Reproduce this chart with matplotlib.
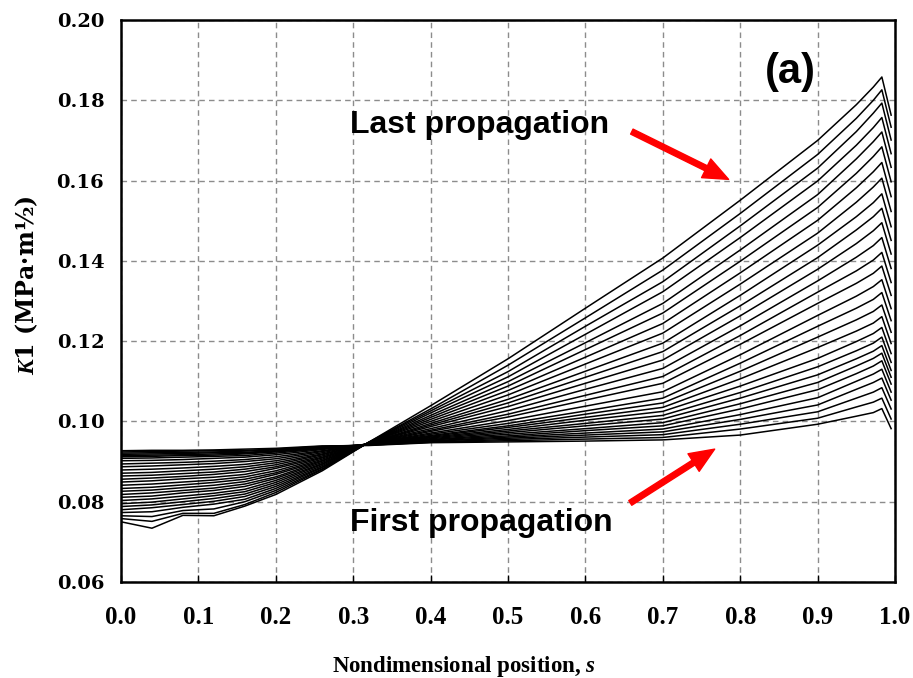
import numpy as np
import matplotlib
matplotlib.use('Agg')
import matplotlib.pyplot as plt

plt.rcParams['font.family'] = 'Liberation Serif'
plt.rcParams['mathtext.fontset'] = 'custom'
plt.rcParams['mathtext.it'] = 'DejaVu Serif:bold:italic'
plt.rcParams['mathtext.rm'] = 'DejaVu Serif:bold'

s_pos = [0.0, 0.04, 0.08, 0.12, 0.16, 0.20, 0.26, 0.32, 0.40, 0.50,
         0.60, 0.70, 0.80, 0.90, 0.95, 0.972, 0.983, 0.995]

# K1 values per position, one entry per propagation step (first -> last)
k_000 = [0.0927, 0.0924, 0.0921, 0.0918, 0.0915, 0.0912, 0.0908, 0.0902, 0.0894, 0.0887, 0.0879, 0.0871, 0.0864, 0.0856,
         0.0849, 0.0841, 0.0833, 0.0826, 0.0818, 0.0811, 0.0803, 0.0795, 0.0788, 0.0780, 0.0773, 0.0765, 0.0758, 0.0750]
k_004 = [0.0928, 0.0925, 0.0922, 0.0919, 0.0916, 0.0913, 0.0909, 0.0903, 0.0896, 0.0889, 0.0881, 0.0873, 0.0866, 0.0859,
         0.0852, 0.0844, 0.0836, 0.0829, 0.0822, 0.0814, 0.0807, 0.0799, 0.0792, 0.0785, 0.0775, 0.0763, 0.0751, 0.0734]
k_008 = [0.0928, 0.0926, 0.0923, 0.0920, 0.0917, 0.0915, 0.0911, 0.0905, 0.0898, 0.0892, 0.0884, 0.0877, 0.0870, 0.0863,
         0.0857, 0.0849, 0.0842, 0.0835, 0.0828, 0.0822, 0.0814, 0.0807, 0.0800, 0.0793, 0.0786, 0.0778, 0.0771, 0.0766]
k_012 = [0.0929, 0.0927, 0.0924, 0.0922, 0.0919, 0.0916, 0.0913, 0.0908, 0.0901, 0.0895, 0.0888, 0.0881, 0.0874, 0.0868,
         0.0861, 0.0854, 0.0848, 0.0841, 0.0834, 0.0828, 0.0821, 0.0815, 0.0808, 0.0801, 0.0794, 0.0782, 0.0771, 0.0765]
k_016 = [0.0931, 0.0928, 0.0926, 0.0923, 0.0921, 0.0919, 0.0915, 0.0911, 0.0905, 0.0900, 0.0893, 0.0887, 0.0881, 0.0875,
         0.0868, 0.0862, 0.0856, 0.0850, 0.0844, 0.0838, 0.0831, 0.0825, 0.0819, 0.0813, 0.0806, 0.0800, 0.0793, 0.0789]
k_020 = [0.0933, 0.0931, 0.0929, 0.0927, 0.0926, 0.0924, 0.0921, 0.0917, 0.0912, 0.0907, 0.0902, 0.0897, 0.0892, 0.0887,
         0.0883, 0.0877, 0.0872, 0.0868, 0.0862, 0.0858, 0.0853, 0.0848, 0.0843, 0.0838, 0.0833, 0.0828, 0.0823, 0.0818]
k_026 = [0.0939, 0.0938, 0.0937, 0.0936, 0.0935, 0.0933, 0.0932, 0.0930, 0.0927, 0.0925, 0.0922, 0.0919, 0.0917, 0.0914,
         0.0911, 0.0909, 0.0906, 0.0903, 0.0901, 0.0898, 0.0895, 0.0893, 0.0890, 0.0887, 0.0885, 0.0882, 0.0880, 0.0877]
k_032 = [0.0940, 0.0941, 0.0941, 0.0942, 0.0942, 0.0943, 0.0943, 0.0944, 0.0944, 0.0944, 0.0945, 0.0945, 0.0945, 0.0945,
         0.0945, 0.0946, 0.0946, 0.0946, 0.0946, 0.0946, 0.0947, 0.0947, 0.0947, 0.0947, 0.0947, 0.0948, 0.0948, 0.0948]
k_040 = [0.0947, 0.0948, 0.0949, 0.0951, 0.0952, 0.0954, 0.0955, 0.0957, 0.0959, 0.0961, 0.0963, 0.0965, 0.0968, 0.0971,
         0.0975, 0.0978, 0.0982, 0.0987, 0.0991, 0.0995, 0.1000, 0.1005, 0.1010, 0.1015, 0.1021, 0.1026, 0.1031, 0.1039]
k_050 = [0.0949, 0.0952, 0.0955, 0.0958, 0.0961, 0.0964, 0.0968, 0.0972, 0.0976, 0.0980, 0.0985, 0.0989, 0.0995, 0.1002,
         0.1011, 0.1018, 0.1027, 0.1037, 0.1046, 0.1055, 0.1066, 0.1077, 0.1088, 0.1099, 0.1111, 0.1124, 0.1140, 0.1156]
k_060 = [0.0951, 0.0956, 0.0961, 0.0966, 0.0971, 0.0977, 0.0982, 0.0989, 0.0995, 0.1003, 0.1010, 0.1018, 0.1026, 0.1038,
         0.1053, 0.1065, 0.1080, 0.1095, 0.1110, 0.1125, 0.1143, 0.1160, 0.1179, 0.1196, 0.1217, 0.1237, 0.1258, 0.1282]
k_070 = [0.0954, 0.0960, 0.0967, 0.0974, 0.0981, 0.0989, 0.0997, 0.1006, 0.1015, 0.1025, 0.1035, 0.1046, 0.1058, 0.1074,
         0.1095, 0.1112, 0.1132, 0.1153, 0.1174, 0.1195, 0.1220, 0.1244, 0.1270, 0.1294, 0.1323, 0.1348, 0.1377, 0.1407]
k_080 = [0.0966, 0.0981, 0.0993, 0.1005, 0.1017, 0.1031, 0.1044, 0.1058, 0.1072, 0.1088, 0.1106, 0.1125, 0.1145, 0.1166,
         0.1192, 0.1214, 0.1238, 0.1263, 0.1288, 0.1314, 0.1342, 0.1370, 0.1399, 0.1427, 0.1458, 0.1487, 0.1518, 0.1551]
k_090 = [0.0993, 0.1008, 0.1024, 0.1041, 0.1059, 0.1079, 0.1097, 0.1116, 0.1136, 0.1157, 0.1184, 0.1210, 0.1237, 0.1264,
         0.1294, 0.1322, 0.1350, 0.1379, 0.1408, 0.1439, 0.1469, 0.1501, 0.1533, 0.1565, 0.1599, 0.1631, 0.1665, 0.1700]
k_095 = [0.1013, 0.1036, 0.1058, 0.1080, 0.1100, 0.1119, 0.1138, 0.1156, 0.1176, 0.1199, 0.1225, 0.1253, 0.1282, 0.1312,
         0.1344, 0.1375, 0.1409, 0.1443, 0.1477, 0.1510, 0.1546, 0.1582, 0.1618, 0.1654, 0.1688, 0.1722, 0.1755, 0.1789]
k_0972 = [0.1022, 0.1048, 0.1073, 0.1097, 0.1118, 0.1138, 0.1157, 0.1175, 0.1195, 0.1219, 0.1245, 0.1274, 0.1304, 0.1336,
          0.1369, 0.1402, 0.1438, 0.1475, 0.1510, 0.1545, 0.1584, 0.1622, 0.1660, 0.1697, 0.1732, 0.1768, 0.1800, 0.1833]
k_0983 = [0.1032, 0.1058, 0.1084, 0.1108, 0.1130, 0.1151, 0.1170, 0.1189, 0.1210, 0.1234, 0.1261, 0.1290, 0.1321, 0.1353,
          0.1387, 0.1421, 0.1458, 0.1495, 0.1531, 0.1567, 0.1606, 0.1645, 0.1684, 0.1721, 0.1757, 0.1793, 0.1826, 0.1858]
k_0995 = [0.0982, 0.1006, 0.1031, 0.1053, 0.1073, 0.1093, 0.1110, 0.1127, 0.1147, 0.1169, 0.1194, 0.1222, 0.1251, 0.1281,
          0.1314, 0.1346, 0.1381, 0.1417, 0.1451, 0.1485, 0.1523, 0.1560, 0.1597, 0.1633, 0.1667, 0.1701, 0.1733, 0.1763]

x_ticks = [0.0, 0.1, 0.2, 0.3, 0.4, 0.5, 0.6, 0.7, 0.8, 0.9, 1.0]
y_ticks = [0.06, 0.08, 0.10, 0.12, 0.14, 0.16, 0.18, 0.20]

curves = np.array([k_000, k_004, k_008, k_012, k_016, k_020, k_026, k_032, k_040, k_050,
                   k_060, k_070, k_080, k_090, k_095, k_0972, k_0983, k_0995]).T

fig = plt.figure(figsize=(9.13, 6.78), dpi=100)
ax = fig.add_axes([0.1325, 0.1416, 0.8478, 0.8289])

for row in curves:
    ax.plot(s_pos, row, color='black', lw=1.1)

ax.set_xlim(0, 1)
ax.set_ylim(0.06, 0.20)
ax.set_xticks(x_ticks)
ax.set_yticks(y_ticks)
ax.set_xticklabels(['%.1f' % t for t in x_ticks], fontsize=18, fontweight='bold')
ax.set_yticklabels(['%.2f' % t for t in y_ticks], fontsize=14, fontweight='bold', family='DejaVu Serif')
ax.tick_params(axis='both', direction='in', length=5, width=1)
ax.tick_params(axis='x', pad=17)
ax.tick_params(axis='y', pad=12, length=0)
ax.grid(True, color='#8c8c8c', linestyle=(0, (4, 3)), lw=1)
for sp in ax.spines.values():
    sp.set_linewidth(1.8)

ax.set_xlabel('Nondimensional position, $\\mathit{s}$', fontsize=16.5, fontweight='bold')
ax.xaxis.set_label_coords(0.443, -0.128)
plt.rcParams['mathtext.it'] = 'Liberation Serif:bold:italic'
ax.set_ylabel('$K$1 (MPa\u00b7m\u00bd)', fontsize=17, fontweight='bold', family='DejaVu Serif')
ax.yaxis.set_label_coords(-0.104, 0.528)

ax.text(0.865, 0.187, '(a)', fontsize=30, fontweight='bold', family='Liberation Sans',
        ha='center', va='center')
ax.text(0.296, 0.1738, 'Last propagation', fontsize=23, fontweight='bold',
        family='Liberation Sans', ha='left', va='center')
ax.text(0.296, 0.0746, 'First propagation', fontsize=23, fontweight='bold',
        family='Liberation Sans', ha='left', va='center')

arrow = dict(facecolor='red', edgecolor='red', width=4, headwidth=15, headlength=18, shrink=0)
ax.annotate('', xy=(0.785, 0.1603), xytext=(0.660, 0.1722), arrowprops=arrow)
ax.annotate('', xy=(0.767, 0.0931), xytext=(0.658, 0.0797), arrowprops=arrow)

fig.savefig('out.png', dpi=100)
